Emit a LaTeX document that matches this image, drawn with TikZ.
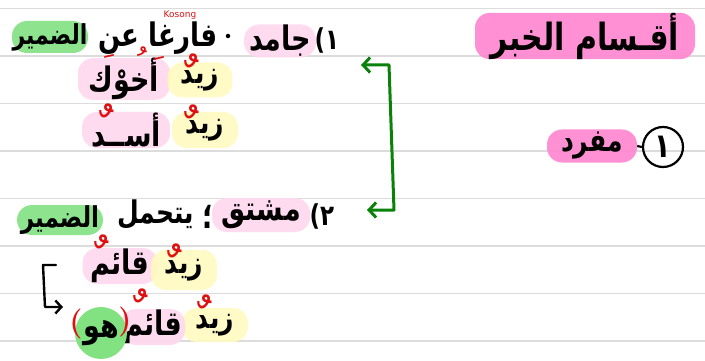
\documentclass[tikz,border=0pt]{standalone}
\usepackage{fontspec}
\usetikzlibrary{arrows.meta}
\TeXXeTstate=1
\newfontfamily\ar[Script=Arabic]{DejaVu Sans}
\newfontfamily\sfx{DejaVu Sans}
\newcommand\ARt[1]{\scalebox{1}[1.25]{\beginR #1\endR}}
\definecolor{pinkH}{HTML}{FF85D0}
\definecolor{pinkL}{HTML}{FFD8EF}
\definecolor{yelL}{HTML}{FFFAC0}
\definecolor{grnH}{HTML}{82E282}
\definecolor{grnA}{HTML}{0A820A}
\definecolor{ruleC}{HTML}{DCDCDC}
\definecolor{redm}{HTML}{E01010}
\begin{document}
\begin{tikzpicture}[x=1pt,y=-1pt,
  txt/.style={inner sep=0pt, font=\ar\bfseries\fontsize{27}{32}\selectfont},
  hlbox/.style={txt, rounded corners=15pt, fill=#1, fill opacity=0.9, text opacity=1},
  zfont/.style={font=\ar\bfseries\fontsize{25}{30}\selectfont},
  harak/.style={inner sep=0pt, text=redm, font=\ar\fontsize{50}{52}\selectfont},
  harsm/.style={inner sep=0pt, text=redm, font=\ar\fontsize{34}{36}\selectfont},
  barb/.style={-{Straight Barb[length=6pt,width=13pt]}, line width=2.6pt, line cap=round, line join=round},
]
\useasboundingbox (0,0) rectangle (705,361);
\fill[white] (0,0) rectangle (705,361);
\foreach \yy in {8.3,55.8,103.3,150.8,198.3,245.8,293.3,340.8}
  \draw[ruleC, line width=1.5pt] (0,\yy) -- (705,\yy);

% right column
\node[hlbox=pinkH, minimum width=220, minimum height=32] (title) at (585,36) {\fontsize{30}{34}\selectfont\ARt{أقـسام الخبر}};
\node[hlbox=pinkH, minimum width=90, minimum height=33] (mufrad) at (592,146) {\fontsize{25}{28}\selectfont\ARt{مفرد}};
\node[txt, draw, circle, line width=2.2pt, minimum size=40] (one) at (663,147) {\ARt{١}};
\draw[line width=2.2pt] (mufrad.east) -- (one.west);

% line 1
\node[txt, font=\ar\bfseries\fontsize{23}{28}\selectfont] (n1) at (327,40) {\ARt{١)}};
\node[hlbox=pinkL, minimum width=72, minimum height=33] (jamid) at (280,41) {\ARt{جامد}};
\node[circle, fill=black, inner sep=0pt, minimum size=4.5] (dot1) at (228,36) {};
\node[txt] (farigh) at (158,38) {\fontsize{26}{30}\selectfont\ARt{فارغا عن}};
\node[hlbox=grnH, minimum width=76, minimum height=32] (damir1) at (50,37) {\fontsize{22}{26}\selectfont\ARt{الضمير}};
\node[inner sep=0pt, text=redm, font=\sfx\fontsize{9}{10}\selectfont] (kosong) at (180,15) {Kosong};

% line 2
\node[hlbox=pinkL, minimum width=92, minimum height=37] (akhuka) at (124,79) {\ARt{أخوْك}};
\node[hlbox=yelL, zfont, minimum width=65, minimum height=35] (zayd1) at (200,80) {\ARt{زيد}};
\node[harsm] (h1) at (109,66) {ﹶ};
\node[harsm] (h2) at (142,62) {ﹸ};
\node[harsm] (h3) at (159,68) {ﹶ};
\node[harak] (h4) at (192,76) {ﹲ};

% line 3
\node[hlbox=pinkL, minimum width=88, minimum height=36] (asad) at (126,130) {\ARt{أســد}};
\node[hlbox=yelL, zfont, minimum width=66, minimum height=36] (zayd2) at (205,130) {\ARt{زيد}};
\node[harak] (h5) at (107,126) {ﹲ};
\node[harak] (h6) at (192,127) {ﹲ};

% line 4
\node[txt, font=\ar\bfseries\fontsize{23}{28}\selectfont] (n2) at (322,216) {\ARt{٢)}};
\node[hlbox=pinkL, minimum width=98, minimum height=34] (mushtaq) at (261,215) {\ARt{مشتق}};
\node[txt] (semi) at (208,217) {\ARt{؛}};
\node[txt, font=\ar\bfseries\fontsize{25}{30}\selectfont] (yatah) at (156,214) {\ARt{يتحمل}};
\node[hlbox=grnH, minimum width=86, minimum height=30] (damir2) at (60,220) {\fontsize{23}{27}\selectfont\ARt{الضمير}};

% line 5
\node[hlbox=pinkL, minimum width=75, minimum height=36] (qaim1) at (120,266) {\ARt{قائم}};
\node[hlbox=yelL, zfont, minimum width=66, minimum height=40] (zayd3) at (184,270) {\ARt{زيد}};
\node[harak] (h7) at (102,257) {ﹲ};
\node[harak] (h8) at (175,266) {ﹲ};

% line 6
\node[hlbox=yelL, zfont, minimum width=66, minimum height=34] (zayd4) at (215,325) {\ARt{زيد}};
\node[hlbox=pinkL, minimum width=64, minimum height=36] (qaim2) at (153,327) {\ARt{قائم}};
\node[txt, circle, fill=grnH, minimum size=52] (huwa) at (101,333) {\ARt{هو}};
\node[inner sep=0pt, text=redm, font=\rmfamily\bfseries\fontsize{30}{32}\selectfont] (pl) at (76,324) {(};
\node[inner sep=0pt, text=redm, font=\rmfamily\bfseries\fontsize{30}{32}\selectfont] (pr) at (125,322) {)};
\node[harak] (h9) at (141,311) {ﹲ};
\node[harak] (h10) at (205,317) {ﹲ};

% green bracket arrow
\coordinate (gA) at (361,65);
\coordinate (gTop) at (389,65);
\coordinate (gBot) at (394,210);
\coordinate (gB) at (367,210);
\draw[grnA, {Straight Barb[length=7pt,width=15pt]}-{Straight Barb[length=7pt,width=15pt]}, line width=3pt, line join=round, line cap=round] (gA) -- (gTop) -- (gBot) -- (gB);

% black bracket arrow
\coordinate (bA) at (56,265);
\coordinate (bC1) at (43,265);
\coordinate (bC2) at (45,307);
\coordinate (bB) at (63,307);
\draw[barb, black, line width=2.4pt] (bA) -- (bC1) -- (bC2) -- (bB);
\end{tikzpicture}
\end{document}
